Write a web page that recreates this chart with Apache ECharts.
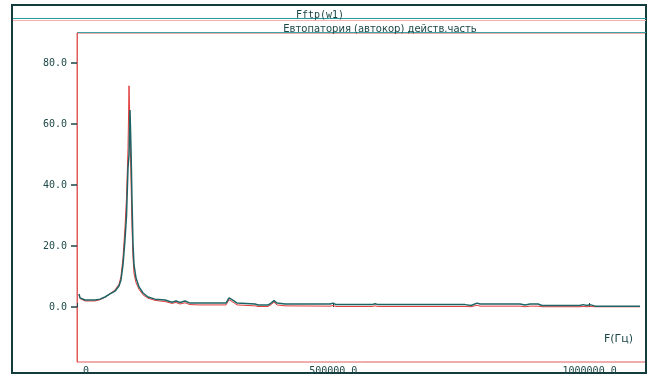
<!DOCTYPE html>
<html lang="ru">

<head>
  <meta charset="UTF-8">
  <title>Fftp(w1)</title>
  <script src="https://cdn.jsdelivr.net/npm/echarts@6/dist/echarts.min.js"></script>
  <style>
    * {
      padding: 0;
      margin: 0;
    }

    #box {
      width: 654px;
      height: 376px;
      background: #fff;
    }
  </style>
</head>

<body>
  <div id="box"></div>
  <script>
    // частоты, Гц
    var freq = [3900, 5900, 15600, 35100, 44900, 54600, 64400, 74100, 81900, 85800, 89700, 93600,
      96600, 99500, 101500, 103400, 105400, 107300, 109300, 111200, 115100, 121000, 128800, 138500,
      152200, 171700, 185300, 193100, 201000, 210700, 220500, 240000, 290700, 296600, 300500, 306300,
      312200, 347300, 353100, 372600, 378500, 384300, 390200, 405800, 493600, 499600, 505300, 575500,
      581400, 587300, 757000, 768700, 780400, 786300, 864300, 874000, 883800, 899400, 907200, 981300,
      987200, 995000, 1000900, 1010600, 1098400]
    // основная кривая (бирюзовая)
    var tealVals = [4.3, 3.0, 2.3, 2.3, 2.6, 3.3, 4.3, 5.2, 6.9, 8.9, 13.8, 22,
      30, 45.6, 49.9, 64.6, 51.5, 35, 20.3, 13.8, 9.5, 6.6, 4.6, 3.3,
      2.6, 2.3, 1.6, 2.0, 1.5, 2.0, 1.3, 1.3, 1.3, 3.0, 3.3, 2.0,
      1.3, 1.0, 0.66, 0.66, 1.3, 2.1, 1.3, 1.0, 1.0, 1.3, 0.8, 0.8,
      1.1, 0.8, 0.8, 0.5, 1.3, 1.0, 1.0, 0.66, 1.0, 1.0, 0.5, 0.5,
      0.8, 0.5, 0.8, 0.3, 0.3]
    // красная кривая
    var redVals = [4.0, 2.8, 2.0, 2.0, 2.4, 3.2, 4.4, 5.6, 7.5, 10, 16, 26,
      36, 52, 72.5, 58, 42, 26, 16, 11, 8, 5.8, 4.0, 2.9,
      2.2, 1.8, 1.2, 1.5, 1.0, 1.4, 0.8, 0.7, 0.7, 2.4, 2.8, 1.4,
      0.7, 0.4, 0.2, 0.2, 0.8, 1.6, 0.7, 0.4, 0.3, 0.5, 0.2, 0.2,
      0.4, 0.2, 0.2, 0.1, 0.6, 0.3, 0.3, 0.1, 0.3, 0.3, 0.1, 0.1,
      0.2, 0.1, 0.2, 0.1, 0.1]
    var yTicks = [0, 20, 40, 60, 80]

    var tealData = []
    var redData = []
    for (let i = 0; i < freq.length; i++) {
      tealData.push([freq[i], tealVals[i]])
      redData.push([freq[i], redVals[i]])
    }

    var dark = '#1d4848'
    var mono = 'DejaVu Sans Mono'

    var mCharts = echarts.init(document.getElementById('box'))
    var option = {
      animation: false,
      backgroundColor: '#fff',
      title: [{
        text: 'Fftp(w1)',
        left: 315,
        top: 5,
        textAlign: 'center',
        textStyle: { fontFamily: mono, fontSize: 10, fontWeight: 'normal', color: dark }
      }, {
        text: 'Евтопатория (автокор) действ.часть',
        left: 375,
        top: 19,
        textAlign: 'center',
        textStyle: { fontFamily: 'DejaVu Sans', fontSize: 10, fontWeight: 'normal', color: dark }
      }],
      grid: {
        left: 77,
        right: 8,
        top: 33,
        bottom: 14,
        show: true,
        borderColor: '#e05a5a',
        borderWidth: 1,
        outerBoundsMode: 'none'
      },
      xAxis: {
        type: 'value',
        min: 0,
        max: 1110000,
        interval: 500000,
        axisLine: { show: false },
        axisTick: { show: true, inside: true, length: 4, lineStyle: { color: dark } },
        splitLine: { show: false },
        axisLabel: {
          margin: 4,
          fontFamily: mono,
          fontSize: 10,
          color: dark,
          showMaxLabel: false,
          alignMinLabel: 'left',
          formatter: function (v) { return v === 0 ? ' 0' : v.toFixed(1) }
        }
      },
      yAxis: {
        type: 'value',
        min: -18,
        max: 89.8,
        axisLine: { show: true, lineStyle: { color: '#e05a5a', width: 1 } },
        axisTick: { show: true, length: 6, customValues: yTicks, lineStyle: { color: dark, width: 1.5 } },
        splitLine: { show: false },
        axisLabel: {
          margin: 10,
          fontFamily: mono,
          fontSize: 10,
          color: dark,
          customValues: yTicks,
          formatter: function (v) { return v.toFixed(1) }
        }
      },
      series: [{
        name: 'red',
        type: 'line',
        data: redData,
        showSymbol: false,
        lineStyle: { color: '#e23a3a', width: 1 }
      }, {
        name: 'teal',
        type: 'line',
        data: tealData,
        showSymbol: false,
        lineStyle: { color: '#1f6464', width: 1.5 }
      }],
      graphic: [{
        type: 'rect',
        shape: { x: 12, y: 5, width: 634, height: 368 },
        style: { fill: 'none', stroke: '#143c3c', lineWidth: 2 },
        silent: true
      }, {
        type: 'line',
        shape: { x1: 13, y1: 18.5, x2: 646, y2: 18.5 },
        style: { stroke: '#2a9a9a', lineWidth: 1 },
        silent: true
      }, {
        type: 'line',
        shape: { x1: 13, y1: 20.5, x2: 646, y2: 20.5 },
        style: { stroke: '#f2b0b0', lineWidth: 1 },
        silent: true
      }, {
        type: 'line',
        shape: { x1: 77, y1: 32.5, x2: 646, y2: 32.5 },
        style: { stroke: '#3aa3a3', lineWidth: 1 },
        silent: true
      }, {
        type: 'text',
        left: 604,
        top: 334,
        style: { text: 'F(Гц)', font: '11px "DejaVu Sans"', fill: dark },
        silent: true
      }]
    }
    mCharts.setOption(option)
  </script>
</body>

</html>
